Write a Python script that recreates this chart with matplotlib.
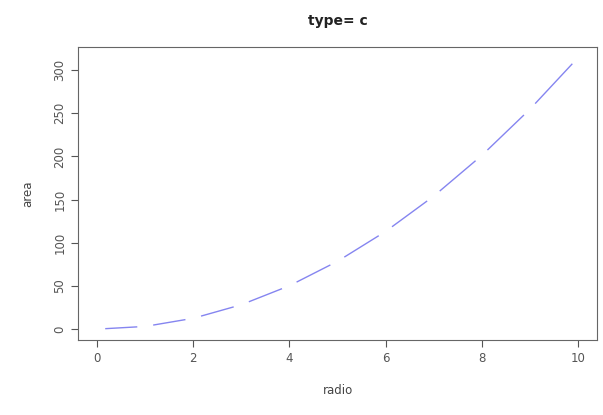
import numpy as np
import matplotlib
matplotlib.use("Agg")
import matplotlib.pyplot as plt

# radio vs area (circle), R plot with type="c"
radio = [0, 1, 2, 3, 4, 5, 6, 7, 8, 9, 10]
area = [0.0, 3.14, 12.57, 28.27, 50.27, 78.54, 113.10, 153.94, 201.06, 254.47, 314.16]

W, H = 603, 415
fig = plt.figure(figsize=(W / 100, H / 100), dpi=100)
ax = fig.add_axes([78 / W, 1 - 340 / H, (597 - 78) / W, (340 - 47) / H])

ax.set_xlim(-0.4, 10.4)
ax.set_ylim(-12.6, 326.8)

# type="c": lines between points, leaving a gap where each point sits
gap = 8.0  # pixels
pts = ax.transData.transform(np.column_stack([radio, area]))
inv = ax.transData.inverted()
for i in range(len(pts) - 1):
    p0, p1 = pts[i], pts[i + 1]
    d = p1 - p0
    L = np.hypot(*d)
    if L <= 2 * gap:
        continue
    u = d / L
    a = inv.transform(p0 + u * gap)
    b = inv.transform(p1 - u * gap)
    ax.plot([a[0], b[0]], [a[1], b[1]], color="#8585f0", lw=1.0, solid_capstyle="butt")

ax.set_xticks([0, 2, 4, 6, 8, 10])
ax.set_yticks([0, 50, 100, 150, 200, 250, 300])
ax.tick_params(direction="out", length=5, width=0.8, colors="#555555",
               labelsize=8.5, labelcolor="#555555")
for lab in ax.get_yticklabels():
    lab.set_rotation(90)
    lab.set_va("center")
for s in ax.spines.values():
    s.set_color("#666666")
    s.set_linewidth(0.8)

ax.set_xlabel("radio", fontsize=8.5, color="#444444", labelpad=14)
ax.set_ylabel("area", fontsize=8.5, color="#444444", labelpad=14)
fig.text((78 + 597) / 2 / W, 1 - 21 / H, "type= c", ha="center", va="center",
         fontsize=10, fontweight="bold", color="#222222")

fig.savefig("out.png", dpi=100)
